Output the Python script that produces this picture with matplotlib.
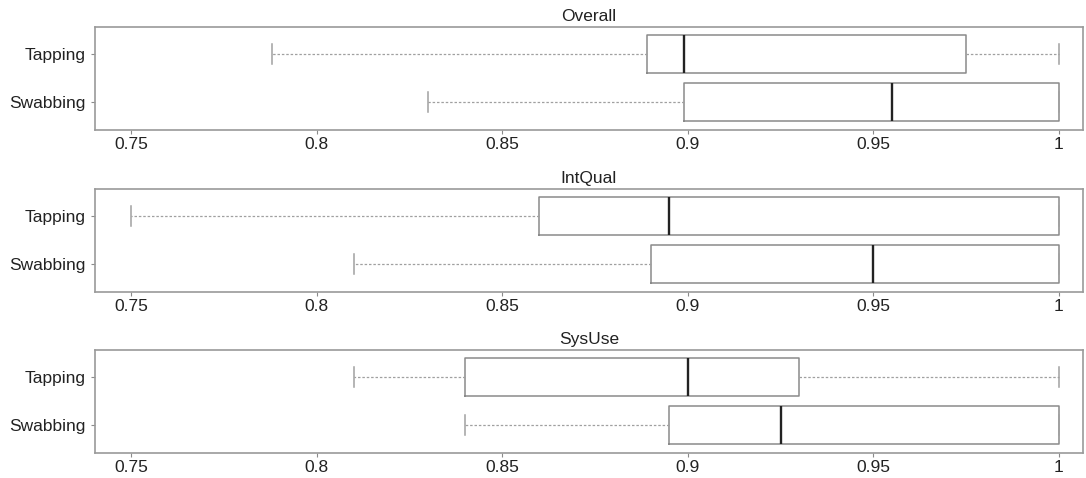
import matplotlib.pyplot as plt

plt.rcParams['font.family'] = ['Liberation Sans', 'DejaVu Sans']

panels = ["Overall", "IntQual", "SysUse"]
groups = ["Tapping", "Swabbing"]

# five-number summaries per panel: [Tapping, Swabbing]
whislo = [[0.788, 0.830], [0.750, 0.810], [0.810, 0.840]]
q1 = [[0.889, 0.899], [0.860, 0.890], [0.840, 0.895]]
med = [[0.899, 0.955], [0.895, 0.950], [0.900, 0.925]]
q3 = [[0.975, 1.000], [1.000, 1.000], [0.930, 1.000]]
whishi = [[1.000, 1.000], [1.000, 1.000], [1.000, 1.000]]

xticks = [0.75, 0.8, 0.85, 0.9, 0.95, 1.0]
xticklabels = ["0.75", "0.8", "0.85", "0.9", "0.95", "1"]

fig = plt.figure(figsize=(10.86, 4.78), dpi=100)
tops = [27, 189, 350]
height = 103
grey = '#8a8a8a'

for p, name in enumerate(panels):
    top = tops[p]
    ax = fig.add_axes([95 / 1086, 1 - (top + height) / 478, 988 / 1086, height / 478])
    stats = []
    for g in range(len(groups)):
        stats.append({
            'whislo': whislo[p][g], 'q1': q1[p][g], 'med': med[p][g],
            'q3': q3[p][g], 'whishi': whishi[p][g], 'fliers': [],
        })
    ax.bxp(stats, positions=[2, 1], orientation='horizontal', widths=0.78,
           capwidths=0.4, showfliers=False,
           boxprops=dict(color=grey, linewidth=1.1),
           medianprops=dict(color='#222222', linewidth=1.7),
           whiskerprops=dict(color='#a0a0a0', linewidth=0.9, linestyle=(0, (2, 1.5))),
           capprops=dict(color='#a0a0a0', linewidth=1.1))
    ax.set_xlim(0.7402, 1.0065)
    ax.set_ylim(0.417, 2.5625)
    ax.set_yticks([2, 1])
    ax.set_yticklabels(groups)
    ax.set_xticks(xticks)
    ax.set_xticklabels(xticklabels)
    ax.tick_params(axis='both', colors=grey, labelcolor='#222222', labelsize=12.5,
                   length=3, width=0.8)
    ax.tick_params(axis='x', pad=2)
    for s in ax.spines.values():
        s.set_color('#9a9a9a')
        s.set_linewidth(1.2)
    ax.set_title(name, fontsize=12.5, color='#222222', pad=4)

fig.savefig('out.png', dpi=100)
